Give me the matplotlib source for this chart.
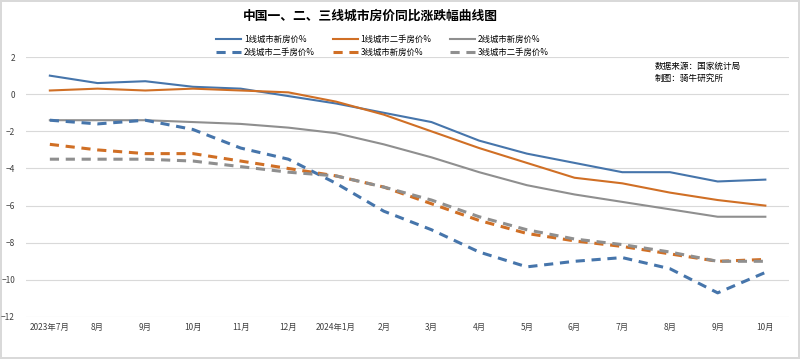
import numpy as np
import matplotlib
matplotlib.use("Agg")
import matplotlib.pyplot as plt

plt.rcParams["font.family"] = ["Noto Sans CJK SC", "DejaVu Sans"]

# ---- data (YoY % change) ----
months = ["2023年7月", "8月", "9月", "10月", "11月", "12月", "2024年1月", "2月",
          "3月", "4月", "5月", "6月", "7月", "8月", "9月", "10月"]

t1_new = [1.0, 0.6, 0.7, 0.4, 0.3, -0.1, -0.5, -1.0,
          -1.5, -2.5, -3.2, -3.7, -4.2, -4.2, -4.7, -4.6]
t1_used = [0.2, 0.3, 0.2, 0.3, 0.2, 0.1, -0.4, -1.1,
           -2.0, -2.9, -3.7, -4.5, -4.8, -5.3, -5.7, -6.0]
t2_new = [-1.4, -1.4, -1.4, -1.5, -1.6, -1.8, -2.1, -2.7,
          -3.4, -4.2, -4.9, -5.4, -5.8, -6.2, -6.6, -6.6]
t2_used = [-1.4, -1.6, -1.4, -1.9, -2.9, -3.5, -4.8, -6.3,
           -7.3, -8.5, -9.3, -9.0, -8.8, -9.4, -10.7, -9.6]
t3_new = [-2.7, -3.0, -3.2, -3.2, -3.6, -4.0, -4.4, -5.0,
          -5.9, -6.8, -7.5, -7.9, -8.2, -8.6, -9.0, -8.9]
t3_used = [-3.5, -3.5, -3.5, -3.6, -3.9, -4.2, -4.4, -5.0,
           -5.7, -6.6, -7.3, -7.8, -8.1, -8.5, -9.0, -9.0]

BLUE = "#4675AB"
ORANGE = "#D06F25"
GRAY = "#8F8F8F"

fig = plt.figure(figsize=(8.0, 3.59), dpi=100)
fig.patch.set_edgecolor("#d9d9d9")
fig.patch.set_linewidth(1.5)
ax = fig.add_axes([0.0325, 0.117, 0.954, 0.724])

x = np.arange(len(months))
h1, = ax.plot(x, t1_new, color=BLUE, lw=1.5, label="1线城市新房价%")
h2, = ax.plot(x, t1_used, color=ORANGE, lw=1.5, label="1线城市二手房价%")
h3, = ax.plot(x, t2_new, color=GRAY, lw=1.5, label="2线城市新房价%")
h4, = ax.plot(x, t2_used, color=BLUE, lw=2.2, ls=(0, (3, 2.2)), label="2线城市二手房价%")
h5, = ax.plot(x, t3_new, color=ORANGE, lw=2.2, ls=(0, (3, 2.2)), label="3线城市新房价%")
h6, = ax.plot(x, t3_used, color=GRAY, lw=2.2, ls=(0, (3, 2.2)), label="3线城市二手房价%")

ax.set_xlim(-0.5, len(months) - 0.5)
ax.set_ylim(-12, 2)
ax.set_yticks(np.arange(-12, 3, 2))
ax.set_xticks(x)
ax.set_xticklabels(months, fontsize=6, color="#404040")
ax.tick_params(axis="y", labelsize=6, labelcolor="#404040", length=0, pad=8)
ax.tick_params(axis="x", length=0, pad=4)
ax.grid(axis="y", color="#d9d9d9", lw=0.8)
ax.set_axisbelow(True)
for s in ax.spines.values():
    s.set_visible(False)

# legend (row-wise order with ncol=3)
handles = [h1, h4, h2, h5, h3, h6]
fig.legend(handles, [h.get_label() for h in handles], ncol=3,
           loc="center", bbox_to_anchor=(0.478, 0.872), frameon=False,
           fontsize=6, handlelength=3.0, columnspacing=2.2,
           labelspacing=0.5, handletextpad=0.3)

fig.text(0.4625, 0.955, "中国一、二、三线城市房价同比涨跌幅曲线图",
         ha="center", va="center", fontsize=9.2, fontweight="bold")

fig.text(0.818, 0.798, "数据来源：国家统计局\n制图：骑牛研究所",
         ha="left", va="center", fontsize=6.2, linespacing=1.5)

fig.savefig("out.png", dpi=100, facecolor="white", edgecolor=fig.get_edgecolor())
